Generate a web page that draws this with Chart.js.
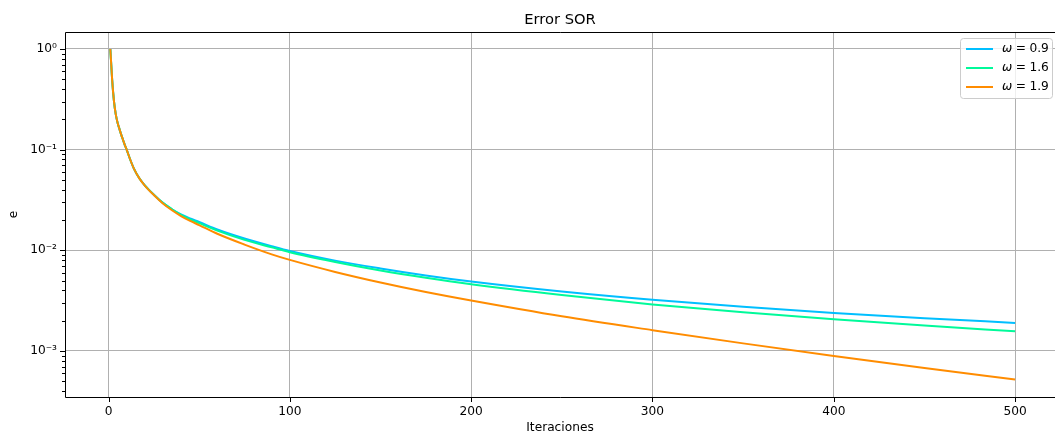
<!DOCTYPE html>
<html>
<head>
<meta charset="utf-8">
<script src="https://cdn.jsdelivr.net/npm/chart.js@4/dist/chart.umd.min.js"></script>
<style>
  html, body { margin: 0; padding: 0; background: #fff; }
  #wrap { width: 1055px; height: 434px; }
</style>
</head>
<body>
<div id="wrap"><canvas id="errChart" width="1055" height="434"></canvas></div>
<script>
// Iterations
const iteraciones = [1, 2, 3, 4, 5, 6, 7, 8, 9, 10, 12, 14, 17, 20, 25, 30, 35, 40, 45, 50, 60, 75, 90, 100, 125, 150, 175, 200, 250, 300, 350, 400, 450, 500];

// Error per omega
const errW09 = [1.0, 0.496, 0.303, 0.224, 0.185, 0.161, 0.141, 0.125, 0.111, 0.1, 0.0794, 0.0649, 0.0519, 0.0442, 0.0357, 0.0296, 0.0256, 0.0227, 0.0207, 0.0191, 0.0161, 0.0131, 0.011, 0.00986, 0.0079, 0.0066, 0.00562, 0.00489, 0.00389, 0.00322, 0.00275, 0.00239, 0.00212, 0.0019];
const errW16 = [1.0, 0.496, 0.303, 0.224, 0.185, 0.161, 0.141, 0.125, 0.111, 0.1, 0.0794, 0.0649, 0.0519, 0.0442, 0.0357, 0.0296, 0.0256, 0.0225, 0.0203, 0.0186, 0.0157, 0.0127, 0.0107, 0.00957, 0.00766, 0.0063, 0.00533, 0.0046, 0.00359, 0.00289, 0.00242, 0.00207, 0.00179, 0.00157];
const errW19 = [1.0, 0.496, 0.303, 0.224, 0.185, 0.161, 0.141, 0.125, 0.111, 0.1, 0.0794, 0.0648, 0.0518, 0.044, 0.0354, 0.0292, 0.025, 0.0219, 0.0196, 0.0178, 0.0146, 0.0114, 0.00912, 0.00803, 0.0061, 0.00479, 0.00385, 0.00317, 0.00221, 0.00161, 0.00119, 0.000893, 0.000679, 0.00052];

const omegas = ['0.9', '1.6', '1.9'];
const colores = ['#00bfff', '#00fa9a', '#ff8c00'];

const xTicks = [0, 100, 200, 300, 400, 500];
const Y_MIN = 3.49e-4, Y_MAX = 1.475;

const FONT = 'DejaVu Sans';
const SUP = { '0': '⁰', '1': '¹', '2': '²', '3': '³', '4': '⁴', '-': '⁻' };

function isPow10(v) {
    const l = Math.log10(v);
    return Math.abs(l - Math.round(l)) < 1e-6;
}

function yTickValues() {
    const out = [];
    for (let e = -4; e <= 0; e++) {
        for (let k = 1; k <= 9; k++) {
            const v = parseFloat((k * Math.pow(10, e)).toPrecision(3));
            if (v >= Y_MIN && v <= Y_MAX) out.push(v);
        }
    }
    return out;
}

function pts(ys) {
    return iteraciones.map((x, i) => ({ x: x, y: ys[i] }));
}

const series = [errW09, errW16, errW19];
const datasets = series.map((ys, i) => ({
    label: 'ω = ' + omegas[i],
    data: pts(ys),
    borderColor: colores[i],
    backgroundColor: colores[i],
    borderWidth: 2,
    pointRadius: 0,
    cubicInterpolationMode: 'monotone',
    order: 3 - i
}));

// title, spines, tick marks and legend box drawn like matplotlib
const mplDecor = {
    id: 'mplDecor',
    afterDraw(chart) {
        const ctx = chart.ctx;
        const a = chart.chartArea;
        ctx.save();

        // title
        ctx.fillStyle = '#000';
        ctx.font = '14.7px "' + FONT + '"';
        ctx.textAlign = 'center';
        ctx.textBaseline = 'middle';
        ctx.fillText('Error SOR', (a.left + a.right) / 2, 20);

        // spines
        ctx.strokeStyle = '#000';
        ctx.lineWidth = 1;
        ctx.beginPath();
        ctx.moveTo(a.right + 10, a.top + 0.5);
        ctx.lineTo(a.left + 0.5, a.top + 0.5);
        ctx.lineTo(a.left + 0.5, a.bottom + 0.5);
        ctx.lineTo(a.right + 10, a.bottom + 0.5);
        ctx.stroke();

        // tick marks
        const xs = chart.scales.x, ysc = chart.scales.y;
        ctx.beginPath();
        xs.ticks.forEach(t => {
            const px = Math.round(xs.getPixelForValue(t.value)) + 0.5;
            ctx.moveTo(px, a.bottom);
            ctx.lineTo(px, a.bottom + 5);
        });
        ysc.ticks.forEach(t => {
            const py = Math.round(ysc.getPixelForValue(t.value)) + 0.5;
            const len = isPow10(t.value) ? 5 : 3;
            ctx.moveTo(a.left, py);
            ctx.lineTo(a.left - len, py);
        });
        ctx.stroke();

        // legend
        const bx = 960.5, by = 38.5, bw = 92, bh = 60;
        ctx.beginPath();
        ctx.roundRect(bx, by, bw, bh, 3);
        ctx.fillStyle = 'rgba(255,255,255,0.8)';
        ctx.fill();
        ctx.strokeStyle = '#cccccc';
        ctx.stroke();

        chart.data.datasets.forEach((ds, i) => {
            const y = 49 + i * 19;
            ctx.strokeStyle = ds.borderColor;
            ctx.lineWidth = 2;
            ctx.beginPath();
            ctx.moveTo(966, y);
            ctx.lineTo(993, y);
            ctx.stroke();

            const parts = ds.label.split(' = ');
            let tx = 1002;
            ctx.fillStyle = '#000';
            ctx.textAlign = 'left';
            ctx.textBaseline = 'middle';
            ctx.font = 'italic 12.2px "' + FONT + '"';
            ctx.fillText(parts[0], tx, y);
            tx += ctx.measureText(parts[0]).width + 3.5;
            ctx.font = '12.2px "' + FONT + '"';
            ctx.fillText('=', tx, y);
            tx += ctx.measureText('=').width + 3.5;
            ctx.fillText(parts[1], tx, y);
        });

        ctx.restore();
    }
};

const config = {
    type: 'line',
    data: { datasets: datasets },
    options: {
        responsive: false,
        animation: false,
        events: [],
        layout: { padding: { top: 32, left: 0, right: 0, bottom: 0 } },
        plugins: {
            legend: { display: false },
            title: { display: false },
            tooltip: { enabled: false }
        },
        scales: {
            x: {
                type: 'linear',
                min: -24,
                max: 522,
                afterBuildTicks: function(scale) {
                    scale.ticks = xTicks.map(v => ({ value: v }));
                    scale.min = -24;
                    scale.max = 522;
                },
                afterFit: function(scale) { scale.height = 37; },
                grid: {
                    color: '#b0b0b0',
                    lineWidth: 1,
                    drawTicks: false
                },
                border: { display: false },
                ticks: {
                    color: '#000',
                    font: { family: FONT, size: 12.2 },
                    padding: 8,
                    maxRotation: 0,
                    autoSkip: false
                },
                title: {
                    display: true,
                    text: 'Iteraciones',
                    color: '#000',
                    font: { family: FONT, size: 12.2, lineHeight: 1 },
                    padding: { top: 0, bottom: 0 }
                }
            },
            y: {
                type: 'logarithmic',
                min: Y_MIN,
                max: Y_MAX,
                bounds: 'data',
                afterBuildTicks: function(scale) {
                    scale.ticks = yTickValues().map(v => ({ value: v }));
                    // keep the exact axis limits (Chart.js rounds them otherwise)
                    scale.min = Y_MIN;
                    scale.max = Y_MAX;
                },
                afterFit: function(scale) { scale.width = 65; },
                grid: {
                    color: function(ctx) {
                        return ctx.tick && isPow10(ctx.tick.value) ? '#b0b0b0' : 'rgba(0,0,0,0)';
                    },
                    lineWidth: 1,
                    drawTicks: false
                },
                border: { display: false },
                ticks: {
                    color: '#000',
                    font: { family: FONT, size: 12.2 },
                    padding: 8,
                    autoSkip: false,
                    callback: function(value) {
                        if (!isPow10(value)) return '';
                        const e = String(Math.round(Math.log10(value)));
                        return '10' + e.split('').map(c => SUP[c]).join('');
                    }
                },
                title: {
                    display: true,
                    text: 'e',
                    color: '#000',
                    font: { family: FONT, size: 12.2 },
                    padding: { top: 7, bottom: 0 }
                }
            }
        }
    },
    plugins: [mplDecor]
};

new Chart(document.getElementById('errChart'), config);
</script>
</body>
</html>
